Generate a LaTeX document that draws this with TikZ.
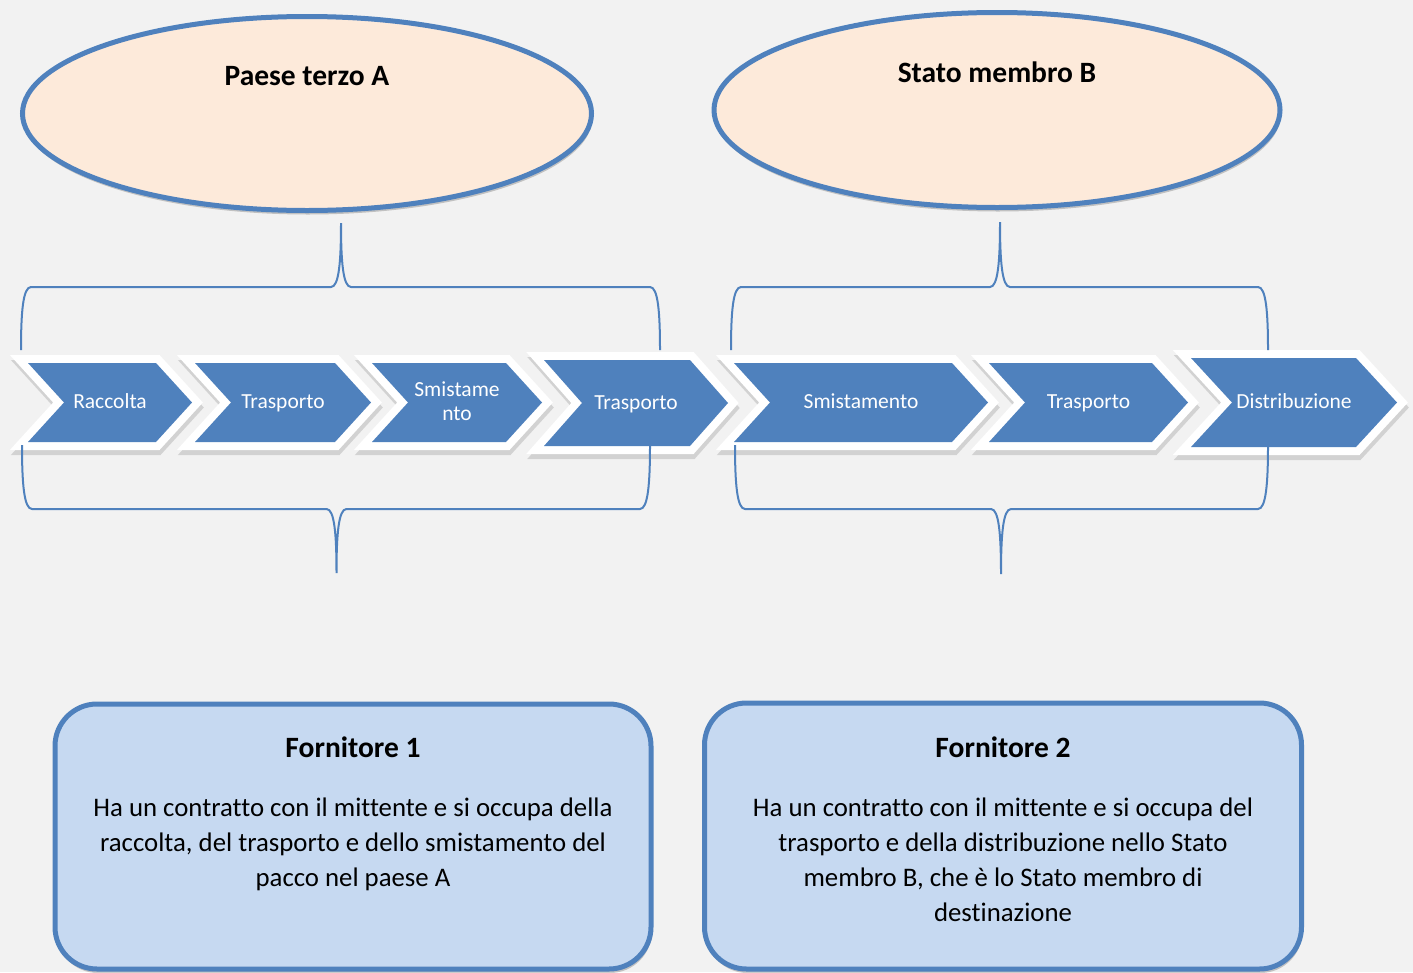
\documentclass[tikz,border=0pt]{standalone}
\usepackage{fontspec}
\setmainfont{Carlito}[Ligatures=NoCommon]
\usetikzlibrary{shapes.geometric,shadows}
\definecolor{accent}{HTML}{4F81BD}
\definecolor{peach}{HTML}{FDEADA}
\definecolor{paleblue}{HTML}{C6D9F1}
\definecolor{bgcol}{HTML}{F2F2F2}
\tikzset{
  softshadow/.style={drop shadow={shadow xshift=1pt,shadow yshift=-4pt,opacity=0.2,fill=black}},
  bracestyle/.style={draw=accent,line width=2pt},
  chevshade/.style={draw=black,fill=black,opacity=0.13,line width=16pt,line join=miter},
  chevwhite/.style={draw=white,line width=16pt,line join=miter},
  chevfill/.style={fill=accent},
  chevtext/.style={text=white,font=\fontsize{21.5}{24}\selectfont,inner sep=0pt,anchor=center},
  region/.style={ellipse,draw=accent,fill=peach,line width=5pt,inner sep=0pt,softshadow},
  regiontitle/.style={font=\fontsize{29.5}{34}\selectfont\bfseries,inner sep=0pt,anchor=base},
  provider/.style={rectangle,rounded corners=42pt,draw=accent,fill=paleblue,line width=5pt,inner sep=0pt,softshadow},
  providertitle/.style={font=\fontsize{29.5}{34}\selectfont\bfseries,inner sep=0pt,anchor=base},
  providertext/.style={font=\fontsize{26.8}{35}\selectfont,inner sep=0pt,anchor=center}
}
% #1 name, #2 x0, #3 x1, #4 top, #5 bottom, #6 depth, #7 text
\newcommand\chevron[7]{%
  \path[chevshade,shift={(1,5)}] (#2,#4) -- (#3,#4) -- ({#3+#6},{(#4+#5)/2}) -- (#3,#5) -- (#2,#5) -- ({#2+#6},{(#4+#5)/2}) -- cycle;
  \path[chevwhite] (#2,#4) -- (#3,#4) -- ({#3+#6},{(#4+#5)/2}) -- (#3,#5) -- (#2,#5) -- ({#2+#6},{(#4+#5)/2}) -- cycle;
  \path[chevfill] (#2,#4) -- (#3,#4) -- ({#3+#6},{(#4+#5)/2}) -- (#3,#5) -- (#2,#5) -- ({#2+#6},{(#4+#5)/2}) -- cycle;
  \node[chevtext] (#1) at ({(#2+#3+#6)/2},{(#4+#5)/2+1.5}) {\begin{tabular}{@{}c@{}}#7\end{tabular}};
}
% #1 left end x, #2 right end x, #3 middle x, #4 end y, #5 bar y, #6 tip y
\newcommand\hbrace[6]{%
  \draw[bracestyle] (#1,#4) .. controls (#1,{#4+0.6*(#5-#4)}) and ({#1+2},#5) .. ({#1+10},#5)
    -- ({#3-10},#5) .. controls ({#3-2},#5) and (#3,{#5+0.4*(#6-#5)}) .. (#3,#6)
    .. controls (#3,{#5+0.4*(#6-#5)}) and ({#3+2},#5) .. ({#3+10},#5)
    -- ({#2-10},#5) .. controls ({#2-2},#5) and (#2,{#4+0.6*(#5-#4)}) .. (#2,#4);
}
\begin{document}
\begin{tikzpicture}[x=1pt,y=-1pt]
\useasboundingbox (0,0) rectangle (1413,972);
\fill[bgcol] (0,0) rectangle (1413,972);

% regions
\node[region,minimum width=569pt,minimum height=194pt] (ellA) at (307,113.5) {};
\node[regiontitle] (titleA) at (307,85) {Paese terzo A};
\node[region,minimum width=566pt,minimum height=195pt] (ellB) at (997,110) {};
\node[regiontitle] (titleB) at (997,82) {Stato membro B};

% process chevrons
\chevron{c1}{28}{156}{363}{442}{36}{Raccolta}
\chevron{c2}{195}{335}{363}{442}{36}{Trasporto}
\chevron{c3}{372}{506}{363}{442}{36}{Smistame\\nto}
\chevron{c4}{544}{690}{360}{446}{38}{Trasporto}
\chevron{c5}{734}{952}{363}{442}{36}{Smistamento}
\chevron{c6}{989}{1152}{363}{442}{36}{Trasporto}
\chevron{c7}{1191}{1356}{358}{447}{41}{Distribuzione}

% braces
\hbrace{21}{660}{341}{350}{287}{223}
\hbrace{731}{1268}{1000}{350}{287}{222}
\hbrace{22}{650}{336.5}{445}{509}{573}
\hbrace{735}{1268}{1001}{445}{509}{574}

% providers
\node[provider,minimum width=596pt,minimum height=265pt] (box1) at (353,836.5) {};
\node[providertitle] (prov1) at (353,757) {Fornitore 1};
\node[providertext] (desc1) at (353,844) {\begin{tabular}{@{}c@{}}Ha un contratto con il mittente e si occupa della\\raccolta, del trasporto e dello smistamento del\\pacco nel paese A\end{tabular}};
\node[provider,minimum width=597pt,minimum height=266pt] (box2) at (1003,836) {};
\node[providertitle] (prov2) at (1003,757) {Fornitore 2};
\node[providertext] (desc2) at (1003,861.5) {\begin{tabular}{@{}c@{}}Ha un contratto con il mittente e si occupa del\\trasporto e della distribuzione nello Stato\\membro B, che è lo Stato membro di\\destinazione\end{tabular}};
\end{tikzpicture}
\end{document}
